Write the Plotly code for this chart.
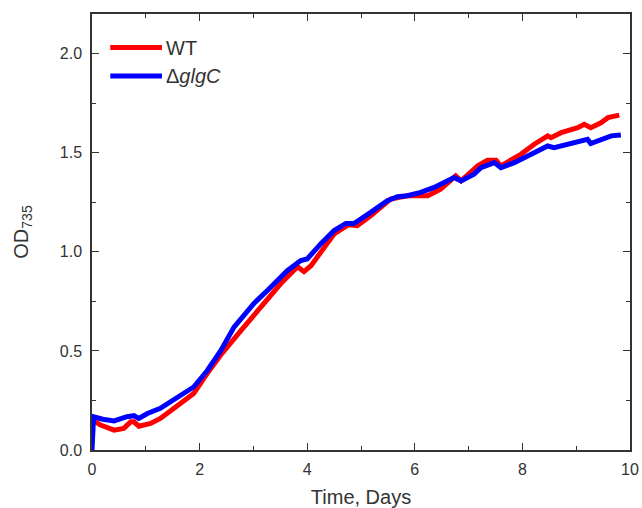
import plotly.graph_objects as go

# Time (days) and OD735 values
wt_time = [0.02, 0.05, 0.16, 0.28, 0.41, 0.59, 0.72, 0.78, 0.87, 1.09, 1.27, 1.45, 1.65, 1.89,
           2.14, 2.39, 2.76, 3.13, 3.51, 3.82, 3.94, 4.07, 4.25, 4.5, 4.77, 4.93, 5.18, 5.55,
           5.86, 6.24, 6.48, 6.76, 6.86, 7.17, 7.35, 7.51, 7.6, 7.97, 8.22, 8.47, 8.53, 8.72,
           9.03, 9.15, 9.27, 9.46, 9.59, 9.8]
wt_od = [0.165, 0.145, 0.126, 0.112, 0.100, 0.109, 0.142, 0.142, 0.120, 0.134, 0.159, 0.195,
         0.235, 0.285, 0.386, 0.478, 0.600, 0.720, 0.840, 0.925, 0.900, 0.930, 1.000, 1.090,
         1.137, 1.132, 1.182, 1.266, 1.283, 1.283, 1.316, 1.383, 1.358, 1.434, 1.462, 1.462,
         1.434, 1.492, 1.543, 1.585, 1.576, 1.601, 1.626, 1.643, 1.626, 1.651, 1.677, 1.690]

mut_time = [0.0, 0.01, 0.03, 0.2, 0.41, 0.65, 0.78, 0.87, 1.03, 1.27, 1.65, 1.89, 2.14, 2.39,
            2.64, 3.01, 3.26, 3.63, 3.88, 4.0, 4.25, 4.5, 4.72, 4.87, 5.18, 5.49, 5.68, 5.86,
            6.11, 6.36, 6.73, 6.86, 7.1, 7.23, 7.48, 7.6, 7.85, 8.1, 8.34, 8.47, 8.59, 8.84,
            9.09, 9.21, 9.27, 9.52, 9.65, 9.83]
mut_od = [0.0, 0.165, 0.168, 0.155, 0.147, 0.168, 0.173, 0.159, 0.184, 0.210, 0.277, 0.318,
          0.400, 0.500, 0.620, 0.740, 0.805, 0.905, 0.956, 0.964, 1.040, 1.107, 1.143, 1.143,
          1.199, 1.258, 1.278, 1.283, 1.300, 1.325, 1.375, 1.358, 1.392, 1.425, 1.450, 1.425,
          1.450, 1.484, 1.518, 1.534, 1.526, 1.543, 1.559, 1.568, 1.546, 1.568, 1.585, 1.590]

series_names = ["WT", "Δ<i>glgC</i>"]
series_colors = ["#ff0000", "#0000ff"]

x_ticks = [0, 2, 4, 6, 8, 10]
y_ticks = [0.0, 0.5, 1.0, 1.5, 2.0]

FONT = "Liberation Sans, Arial, sans-serif"
TXT = "#333333"

fig = go.Figure()
fig.add_trace(go.Scatter(x=wt_time, y=wt_od, mode="lines", name=series_names[0],
                         line=dict(color=series_colors[0], width=5), showlegend=False))
fig.add_trace(go.Scatter(x=mut_time, y=mut_od, mode="lines", name=series_names[1],
                         line=dict(color=series_colors[1], width=5), showlegend=False))

axis_common = dict(
    showline=True, linecolor=TXT, linewidth=1.5, mirror="allticks",
    ticks="inside", ticklen=7, tickwidth=1.3, tickcolor=TXT,
    showgrid=False, zeroline=False, automargin=False,
    tickfont=dict(family=FONT, size=16, color=TXT),
)

fig.update_xaxes(range=[0, 10], tickvals=x_ticks, ticktext=[str(v) for v in x_ticks],
                 ticklabelstandoff=4,
                 minor=dict(ticks="inside", ticklen=4, dtick=1, tickcolor=TXT, tickwidth=1.3),
                 title=dict(text="Time, Days", standoff=13,
                            font=dict(family=FONT, size=20, color=TXT)),
                 **axis_common)
fig.update_yaxes(range=[0, 2.2], tickvals=y_ticks, ticktext=[f"{v:.1f}" for v in y_ticks],
                 ticklabelstandoff=5,
                 minor=dict(ticks="inside", ticklen=4, dtick=0.25, tickcolor=TXT, tickwidth=1.3),
                 title=dict(text="OD<sub>735</sub>", standoff=26,
                            font=dict(family=FONT, size=20, color=TXT)),
                 **axis_common)

# Legend drawn in paper coordinates (long line samples like the reference)
legend_y = [0.923, 0.858]
shapes = []
annotations = []
for name, color, ly in zip(series_names, series_colors, legend_y):
    shapes.append(dict(type="line", xref="paper", yref="paper", x0=0.034, x1=0.130,
                       y0=ly, y1=ly, line=dict(color=color, width=5)))
    annotations.append(dict(xref="paper", yref="paper", x=0.134, y=ly, text=name,
                            showarrow=False, xanchor="left", yanchor="middle",
                            font=dict(family=FONT, size=20, color=TXT)))

fig.update_layout(
    width=642, height=508,
    margin=dict(l=92, r=12, t=14, b=58),
    paper_bgcolor="white", plot_bgcolor="white",
    showlegend=False,
    shapes=shapes, annotations=annotations,
)

fig.write_html("out.html", config={"displayModeBar": False},
               post_script="document.body.style.margin='0';")
